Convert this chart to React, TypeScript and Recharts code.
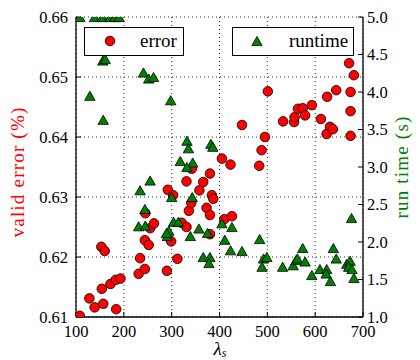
import React from 'react';
import { ScatterChart, Scatter, XAxis, YAxis, CartesianGrid } from 'recharts';

const errorLambda = [108, 128, 139, 153, 154, 157, 160, 172, 183, 184, 193, 231, 234, 244, 244, 245, 252, 255, 263, 290, 292, 299, 303, 312, 321, 331, 331, 336, 341, 342, 358, 366, 373, 380, 380, 380, 384, 387, 405, 410, 423, 426, 447, 483, 488, 495, 501, 533, 556, 557, 564, 574, 579, 593, 612, 624, 625, 631, 637, 644, 671, 674, 674, 674, 681];
const errorValue = [0.6102, 0.6131, 0.6116, 0.6217, 0.6147, 0.6122, 0.621, 0.6155, 0.6162, 0.6113, 0.6164, 0.6172, 0.6198, 0.618, 0.6228, 0.6273, 0.622, 0.6248, 0.6256, 0.6177, 0.6312, 0.6226, 0.6303, 0.6197, 0.6257, 0.6326, 0.625, 0.6277, 0.629, 0.6347, 0.6311, 0.6325, 0.6282, 0.6339, 0.627, 0.6238, 0.6303, 0.6297, 0.6364, 0.6263, 0.6354, 0.6268, 0.642, 0.6352, 0.6378, 0.64, 0.6476, 0.6426, 0.6425, 0.6433, 0.6447, 0.6448, 0.6436, 0.6453, 0.643, 0.6405, 0.6467, 0.6417, 0.6413, 0.6478, 0.6523, 0.6475, 0.6443, 0.6402, 0.6503];

const runtimeLambda = [108, 139, 155, 171, 181, 190, 129, 156, 161, 157, 241, 252, 262, 298, 332, 335, 382, 386, 318, 344, 332, 255, 234, 244, 231, 245, 291, 294, 300, 343, 304, 314, 357, 375, 339, 289, 405, 426, 411, 423, 447, 484, 492, 489, 499, 366, 380, 378, 532, 554, 560, 563, 574, 579, 593, 610, 624, 623, 632, 638, 644, 666, 673, 670, 677, 681, 676];
const runtimeValue = [5.0, 5.0, 5.0, 5.0, 5.0, 5.0, 3.95, 4.42, 4.44, 3.63, 4.26, 4.18, 4.2, 3.89, 3.35, 3.25, 3.31, 3.27, 3.08, 3.06, 3.0, 2.82, 2.69, 2.44, 2.21, 2.22, 2.08, 2.15, 2.6, 2.6, 2.27, 2.27, 2.18, 2.12, 2.08, 2.12, 2.25, 2.2, 2.03, 1.89, 1.88, 2.04, 1.78, 1.67, 1.8, 1.8, 1.8, 1.72, 1.67, 1.69, 1.76, 1.78, 1.92, 1.74, 1.56, 1.64, 1.64, 1.58, 1.48, 1.92, 1.78, 1.71, 1.75, 1.67, 1.64, 1.52, 2.32];

const xTicks = [100, 200, 300, 400, 500, 600, 700];
const errorTicks = [0.61, 0.62, 0.63, 0.64, 0.65, 0.66];
const runtimeTicks = [1.0, 1.5, 2.0, 2.5, 3.0, 3.5, 4.0, 4.5, 5.0];

const errorData = errorLambda.map((x, i) => ({ x, y: errorValue[i] }));
const runtimeData = runtimeLambda.map((x, i) => ({ x, y: runtimeValue[i] }));

const RED = '#ff0000';
const GREEN = '#008000';
const FONT = "'Liberation Serif', serif";

const CircleMark = (p: any) => (
  <circle cx={p.cx} cy={p.cy} r={4.8} fill={RED} stroke="#000" strokeWidth={0.8} />
);
const TriMark = (p: any) => {
  const { cx, cy } = p;
  const h = 4.6;
  const w = 5.2;
  return (
    <polygon
      points={`${cx},${cy - h} ${cx - w},${cy + h} ${cx + w},${cy + h}`}
      fill={GREEN}
      stroke="#000"
      strokeWidth={0.8}
    />
  );
};

const tickStyle = { fill: '#000', fontSize: 16.5, fontFamily: FONT };
const axisLine = { stroke: '#000', strokeWidth: 1.3 };
const tickLine = { stroke: '#000', strokeWidth: 1 };

export default function App() {
  return (
    <div style={{ position: 'relative', width: 412, height: 352, fontFamily: FONT }}>
      <ScatterChart width={412} height={352} margin={{ top: 9, right: 0, bottom: 0, left: 0 }}>
        <CartesianGrid
          xAxisId="bottom"
          yAxisId="left"
          stroke="#000"
          strokeWidth={0.8}
          strokeDasharray="1 3"
        />
        <XAxis
          xAxisId="bottom"
          type="number"
          dataKey="x"
          domain={[100, 700]}
          ticks={xTicks}
          interval={0}
          orientation="bottom"
          height={43}
          tickSize={-5}
          tickMargin={13}
          axisLine={axisLine}
          tickLine={tickLine}
          tick={tickStyle}
          allowDataOverflow
        />
        <XAxis
          xAxisId="top"
          type="number"
          dataKey="x"
          domain={[100, 700]}
          ticks={xTicks}
          interval={0}
          orientation="top"
          height={0}
          tickSize={-5}
          axisLine={axisLine}
          tickLine={tickLine}
          tick={false}
          allowDataOverflow
        />
        <YAxis
          yAxisId="left"
          type="number"
          dataKey="y"
          orientation="left"
          domain={[0.61, 0.66]}
          ticks={errorTicks}
          interval={0}
          width={68}
          tickSize={-5}
          tickMargin={13}
          axisLine={axisLine}
          tickLine={tickLine}
          tick={tickStyle}
          tickFormatter={(v: number) => v.toFixed(2)}
          allowDataOverflow
        />
        <YAxis
          yAxisId="right"
          type="number"
          dataKey="y"
          orientation="right"
          domain={[1, 5]}
          ticks={runtimeTicks}
          interval={0}
          width={57}
          tickSize={-5}
          tickMargin={9}
          axisLine={axisLine}
          tickLine={tickLine}
          tick={tickStyle}
          tickFormatter={(v: number) => v.toFixed(1)}
          allowDataOverflow
        />
        <Scatter
          xAxisId="bottom"
          yAxisId="left"
          data={errorData}
          shape={CircleMark}
          isAnimationActive={false}
        />
        <Scatter
          xAxisId="bottom"
          yAxisId="right"
          data={runtimeData}
          shape={TriMark}
          isAnimationActive={false}
        />
      </ScatterChart>

      <div
        style={{
          position: 'absolute',
          left: 76,
          top: 19,
          width: 100,
          height: 29,
          boxSizing: 'border-box',
          border: '1.4px solid #000',
          background: '#fff',
        }}
      >
        <svg width={12} height={12} style={{ position: 'absolute', left: 19, top: 7 }}>
          <circle cx={6} cy={6} r={4.8} fill={RED} stroke="#000" strokeWidth={0.8} />
        </svg>
        <span style={{ position: 'absolute', left: 55, top: 2, fontSize: 19, lineHeight: '22px' }}>error</span>
      </div>

      <div
        style={{
          position: 'absolute',
          left: 224,
          top: 19,
          width: 122,
          height: 29,
          boxSizing: 'border-box',
          border: '1.4px solid #000',
          background: '#fff',
        }}
      >
        <svg width={12} height={12} style={{ position: 'absolute', left: 18, top: 7 }}>
          <polygon points="6,1.4 0.8,10.6 11.2,10.6" fill={GREEN} stroke="#000" strokeWidth={0.8} />
        </svg>
        <span style={{ position: 'absolute', left: 56, top: 2, fontSize: 19, lineHeight: '22px' }}>runtime</span>
      </div>

      <div
        style={{
          position: 'absolute',
          left: 10,
          top: 164,
          transform: 'translate(-50%, -50%) rotate(-90deg)',
          whiteSpace: 'nowrap',
          color: RED,
          fontSize: 19,
          letterSpacing: 1.2,
          lineHeight: '22px',
        }}
      >
        valid error (%)
      </div>

      <div
        style={{
          position: 'absolute',
          left: 394,
          top: 159,
          transform: 'translate(-50%, -50%) rotate(-90deg)',
          whiteSpace: 'nowrap',
          color: GREEN,
          fontSize: 19,
          letterSpacing: 1.2,
          lineHeight: '22px',
        }}
      >
        run time (s)
      </div>

      <div
        style={{
          position: 'absolute',
          left: 212,
          top: 342,
          transform: 'translate(-50%, -50%)',
          whiteSpace: 'nowrap',
          color: '#000',
          fontSize: 19,
          lineHeight: '16px',
        }}
      >
        <span style={{ fontStyle: 'italic' }}>λ</span>
        <span style={{ fontSize: 12, fontStyle: 'italic', position: 'relative', top: 2 }}>s</span>
      </div>
    </div>
  );
}
